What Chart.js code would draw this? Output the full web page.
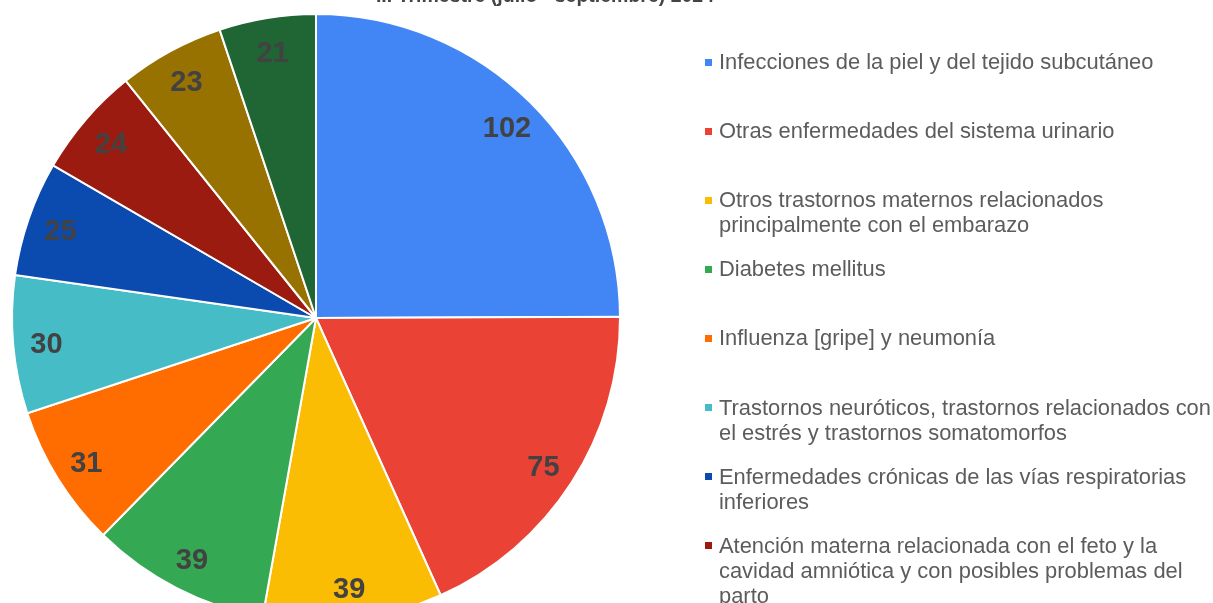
<!DOCTYPE html>
<html>
<head>
<meta charset="utf-8">
<script src="https://cdn.jsdelivr.net/npm/chart.js@4"></script>
<style>
  html, body { margin: 0; padding: 0; background: #fff; }
  #wrap { position: relative; width: 1213px; height: 603px; overflow: hidden; background: #fff; }
  #c { position: absolute; left: 0; top: 0; }
  #title { position: absolute; left: 0; width: 1090px; top: -16px; text-align: center;
           font: bold 19.5px "Liberation Sans", Arial, sans-serif; color: #444; line-height: 23px; white-space: nowrap; }
  .item { position: absolute; left: 719px; width: 494px; font: 21.9px "Liberation Sans", Arial, sans-serif;
          color: #5c5c5c; line-height: 25px; white-space: nowrap; }
  .mark { position: absolute; left: 705px; width: 7px; height: 7px; }
</style>
</head>
<body>
<div id="wrap">
  <canvas id="c" width="1213" height="640"></canvas>
  <div id="title"></div>
  <div id="legend"></div>
</div>
<script>
const titleText = "III Trimestre (julio - septiembre) 2024";
const categories = [
  ["Infecciones de la piel y del tejido subcutáneo"],
  ["Otras enfermedades del sistema urinario"],
  ["Otros trastornos maternos relacionados", "principalmente con el embarazo"],
  ["Diabetes mellitus"],
  ["Influenza [gripe] y neumonía"],
  ["Trastornos neuróticos, trastornos relacionados con", "el estrés y trastornos somatomorfos"],
  ["Enfermedades crónicas de las vías respiratorias", "inferiores"],
  ["Atención materna relacionada con el feto y la", "cavidad amniótica y con posibles problemas del", "parto"],
  ["Trastornos de la vesícula biliar, de las vías biliares", "y del páncreas"],
  ["Enfermedades hipertensivas"]
];
const values = [102, 75, 39, 39, 31, 30, 25, 24, 23, 21];
const colors = ["#4285F4", "#EA4335", "#FBBC04", "#34A853", "#FF6D01", "#46BDC6",
                "#0B4AAE", "#9B1B11", "#977200", "#1F6634"];

document.getElementById('title').textContent = titleText;

// HTML legend built from the category arrays
const legend = document.getElementById('legend');
categories.forEach((lines, i) => {
  const cy = 61.5 + 69.1 * i;
  const m = document.createElement('div');
  m.className = 'mark';
  m.style.top = (cy - 3) + 'px';
  m.style.background = colors[i];
  legend.appendChild(m);
  const t = document.createElement('div');
  t.className = 'item';
  t.style.top = (cy - 12.5) + 'px';
  t.innerHTML = lines.map(s => s.replace(/&/g, '&amp;').replace(/</g, '&lt;')).join('<br>');
  legend.appendChild(t);
});

const labelPlugin = {
  id: 'sliceLabels',
  afterDatasetsDraw(chart) {
    const ctx = chart.ctx;
    const meta = chart.getDatasetMeta(0);
    ctx.save();
    ctx.font = 'bold 29px "Liberation Sans", Arial, sans-serif';
    ctx.fillStyle = '#424242';
    ctx.textAlign = 'center';
    ctx.textBaseline = 'middle';
    meta.data.forEach((arc, i) => {
      const p = arc.getProps(['x', 'y', 'startAngle', 'endAngle', 'outerRadius'], true);
      const mid = (p.startAngle + p.endAngle) / 2;
      const r = p.outerRadius * 0.89;
      ctx.fillText(String(chart.data.datasets[0].data[i]), p.x + Math.cos(mid) * r, p.y + Math.sin(mid) * r + 3);
    });
    ctx.restore();
  }
};

new Chart(document.getElementById('c'), {
  type: 'pie',
  data: {
    labels: categories.map(l => l.join(' ')),
    datasets: [{
      data: values,
      backgroundColor: colors,
      borderColor: '#ffffff',
      borderWidth: 2,
      hoverOffset: 0
    }]
  },
  options: {
    responsive: false,
    devicePixelRatio: 1,
    animation: false,
    radius: 304,
    layout: { padding: { left: 0, right: 581, top: 0, bottom: 4 } },
    plugins: {
      legend: { display: false },
      title: { display: false },
      tooltip: { enabled: false }
    }
  },
  plugins: [labelPlugin]
});
</script>
</body>
</html>
